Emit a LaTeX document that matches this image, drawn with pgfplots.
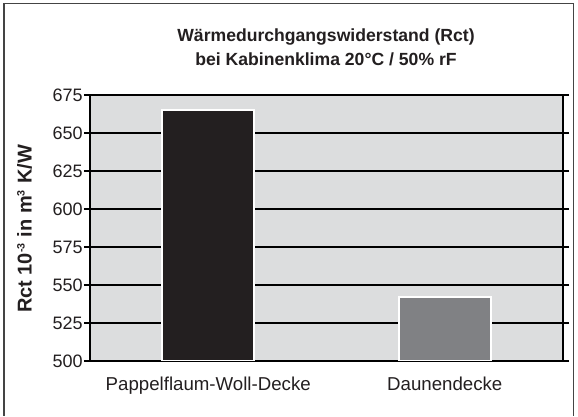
\documentclass[border=0pt]{standalone}
\usepackage{pgfplots}
\pgfplotsset{compat=1.18}
\usepackage{fontspec}
\setmainfont{Liberation Sans}
\definecolor{bggray}{HTML}{DCDDDE}
\definecolor{barblack}{HTML}{231F20}
\definecolor{bargray}{HTML}{808184}
\definecolor{framegray}{HTML}{444444}
\begin{document}
\begin{tikzpicture}
\fill[white] (0pt,0pt) rectangle (433.5pt,312pt);
\draw[line width=0.8pt, framegray] (3pt,0pt) -- (3pt,309.5pt) -- (430pt,309.5pt) -- (430pt,0pt);
\begin{axis}[
  at={(67.5pt,41.25pt)}, anchor=south west,
  scale only axis, width=354.75pt, height=199.5pt,
  xmin=-0.5, xmax=1.5, ymin=500, ymax=675,
  ytick={500,525,...,675},
  yticklabel={\fontsize{13.5}{15}\selectfont\pgfmathprintnumber{\tick}},
  xtick={0,1}, xticklabels={Pappelflaum-Woll-Decke, Daunendecke},
  major x tick style={draw=none},
  ytick style={line width=1.5pt, black},
  tick align=outside, major tick length=4.5pt,
  ymajorgrids, major grid style={line width=1.8pt, black},
  axis line style={line width=1.8pt, black},
  axis background/.style={fill=bggray},
  ybar, bar width=69pt, bar shift=0pt,
  yticklabel style={text=barblack, xshift=2.5pt},
  xticklabel style={font=\fontsize{14}{16}\selectfont, text=barblack, yshift=-4pt},
  /pgf/number format/assume math mode=true,
]
\addplot[fill=barblack, draw=white, line width=1.5pt] coordinates {(0,665)};
\addplot[fill=bargray, draw=white, line width=1.5pt] coordinates {(1,542)};
\end{axis}
\node[align=center, font=\fontsize{13.2}{18}\selectfont\bfseries, text=barblack] at (244.5pt,276.4pt) {Wärmedurchgangswiderstand (Rct)\\bei Kabinenklima 20°C / 50\% rF};
\node[rotate=90, font=\fontsize{15}{17}\selectfont\bfseries, text=barblack] at (18.5pt,140.25pt) {Rct 10\textsuperscript{\fontsize{8}{9}\selectfont -3} in m\textsuperscript{\fontsize{8}{9}\selectfont 3} K/W};
\end{tikzpicture}
\end{document}
